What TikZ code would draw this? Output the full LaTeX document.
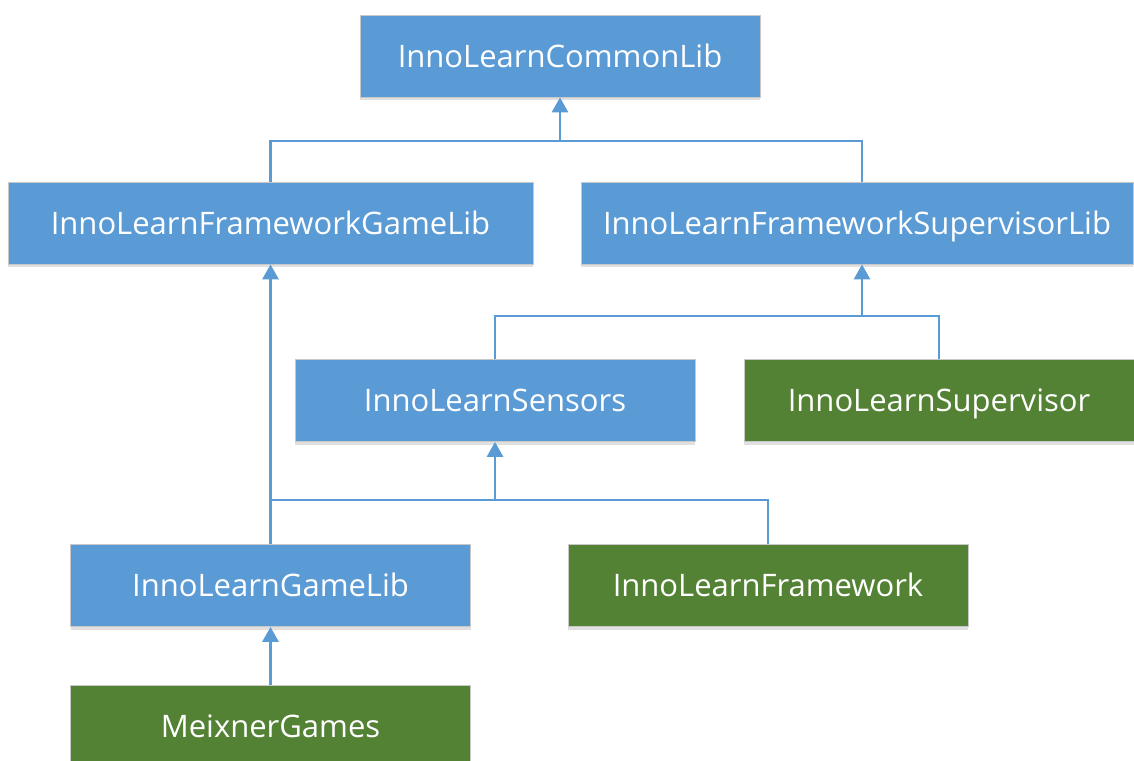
\documentclass[tikz,border=0pt]{standalone}
\usepackage{fontspec}
\setmainfont{Open Sans}
\usetikzlibrary{arrows.meta,shadows}
\definecolor{libblue}{HTML}{5B9BD5}
\definecolor{appgreen}{HTML}{548235}
\definecolor{edgegray}{HTML}{C8C8C8}
\tikzset{
  box/.style={draw=edgegray, line width=0.8pt, text=white, inner sep=0pt,
    minimum height=82pt, text height=22pt, text depth=0pt,
    font=\fontsize{31}{37}\selectfont,
    drop shadow={shadow xshift=0pt, shadow yshift=-3pt, opacity=0.12, fill=black}},
  libbox/.style={box, fill=libblue},
  appbox/.style={box, fill=appgreen},
  link/.style={draw=libblue, line width=2.8pt},
  uses/.style={link, -{Triangle[width=16pt,length=15pt]}},
}
\begin{document}
\begin{tikzpicture}[x=1pt,y=-1pt]
\clip (0,0) rectangle (1134,760);
\fill[white] (0,0) rectangle (1134,760);

% libraries and applications
\node[libbox, minimum width=400pt] (common)  at (560,56)    {InnoLearnCommonLib};
\node[libbox, minimum width=525pt] (fgame)   at (270.5,223) {InnoLearnFrameworkGameLib};
\node[libbox, minimum width=552pt] (fsup)    at (857,223)   {InnoLearnFrameworkSupervisorLib};
\node[libbox, minimum width=400pt] (sensors) at (495,400.5) {InnoLearnSensors};
\node[appbox, minimum width=390pt] (super)   at (939,400.5) {InnoLearnSupervisor};
\node[libbox, minimum width=400pt] (gamelib) at (270.5,585.5) {InnoLearnGameLib};
\node[appbox, minimum width=400pt] (fwork)   at (768,585.5) {InnoLearnFramework};
\node[appbox, minimum width=400pt] (meixner) at (270.5,726)   {MeixnerGames};

% junction points of the dependency trees
\coordinate (j1) at (560,141);
\coordinate (j2) at (862,316);
\coordinate (j3) at (495,500);

% dependencies
\draw[link] (fgame.north) |- (j1) -| ([xshift=5pt]fsup.north);
\draw[uses] (j1) -- (common.south);

\draw[link] (sensors.north) |- (j2) -| (super.north);
\draw[uses] (j2) -- ([xshift=5pt]fsup.south);

\draw[link] (gamelib.north) |- (j3) -| (fwork.north);
\draw[uses] (j3) -- (sensors.south);
\draw[uses] (gamelib.north) -- (fgame.south);
\draw[uses] (meixner.north) -- (gamelib.south);
\end{tikzpicture}
\end{document}
